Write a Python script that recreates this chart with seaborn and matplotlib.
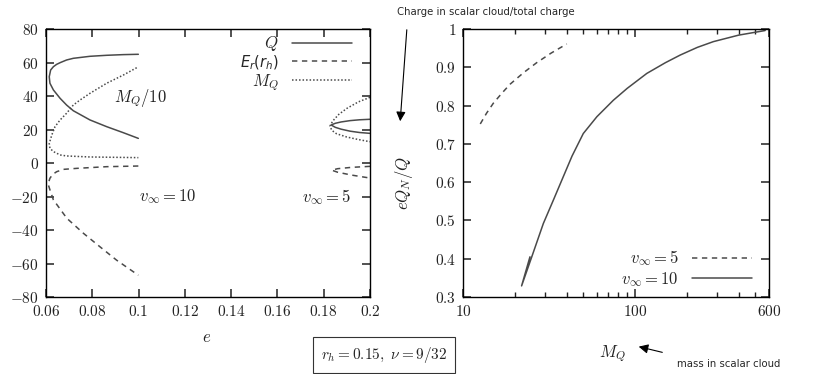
import numpy as np
import matplotlib
matplotlib.use('Agg')
import matplotlib.pyplot as plt
import pandas as pd
import seaborn as sns
from matplotlib.ticker import FuncFormatter, FixedLocator, NullFormatter

### data
# left panel, v_inf = 10 (each curve: upper branch -> turning point -> lower branch)
e_q10 = [0.0999, 0.0934, 0.0862, 0.0790, 0.0718, 0.0689, 0.0661, 0.0646, 0.0632, 0.0620, 0.0614,
         0.0617, 0.0632, 0.0661, 0.0689, 0.0718, 0.0790, 0.0862, 0.0934, 0.0999]
q10 = [64.9, 64.7, 64.3, 63.7, 62.5, 61.5, 59.9, 58.9, 57.5, 55.5, 51.5,
       47.6, 43.6, 38.6, 34.6, 31.2, 25.7, 21.7, 18.1, 14.7]
e_m10 = [0.0992, 0.0934, 0.0862, 0.0790, 0.0747, 0.0718, 0.0689, 0.0661, 0.0639, 0.0625, 0.0614,
         0.0617, 0.0632, 0.0661, 0.0689, 0.0790, 0.0999]
m10 = [56.9, 52.5, 47.6, 41.6, 37.6, 34.6, 29.7, 25.7, 21.7, 16.7, 11.7,
       8.8, 6.8, 4.8, 4.2, 3.6, 3.2]
e_er10 = [0.0999, 0.0862, 0.0733, 0.0675, 0.0646, 0.0629, 0.0617, 0.0609, 0.0617, 0.0632, 0.0690,
          0.0762, 0.0833, 0.0905, 0.0999]
er10 = [-1.8, -2.2, -3.2, -3.8, -5.2, -6.8, -9.1, -12.5, -16.0, -22.0, -33.0,
        -42.0, -50.0, -58.0, -67.0]

# left panel, v_inf = 5 (cut at e = 0.2)
e_q5 = [0.2, 0.1955, 0.1914, 0.1875, 0.185, 0.1832, 0.185, 0.1875, 0.1914, 0.1955, 0.2]
q5 = [26.1, 25.8, 25.3, 24.5, 23.7, 22.7, 21.3, 20.2, 19.0, 18.2, 17.7]
e_m5 = [0.2, 0.195, 0.190, 0.1865, 0.1845, 0.1832, 0.1827, 0.1835, 0.1855, 0.190, 0.195, 0.2]
m5 = [39.2, 36.5, 32.6, 29.0, 26.0, 23.5, 22.0, 19.5, 17.5, 15.5, 14.0, 12.7]
e_er5 = [0.2, 0.192, 0.186, 0.1835, 0.186, 0.192, 0.2]
er5 = [-2.0, -2.6, -3.4, -4.3, -5.5, -7.2, -9.0]

# right panel: eQ_N/Q vs M_Q
mq10 = [24.5, 21.9, 25.1, 29.3, 33.5, 37.5, 43.0, 50.0, 60.0, 74.8, 90.0, 117.0, 150.0, 183.0,
        230.0, 285.0, 400.0, 570.0]
frac10 = [0.405, 0.329, 0.405, 0.492, 0.553, 0.605, 0.668, 0.727, 0.771, 0.814, 0.845, 0.884, 0.912,
          0.932, 0.952, 0.967, 0.984, 0.996]
mq5 = [12.6, 13.7, 15.0, 16.8, 18.8, 22.5, 26.8, 32.5, 40.1]
frac5 = [0.752, 0.780, 0.806, 0.832, 0.856, 0.886, 0.912, 0.937, 0.961]

left_xticks = [0.06, 0.08, 0.1, 0.12, 0.14, 0.16, 0.18, 0.2]
left_yticks = [-80, -60, -40, -20, 0, 20, 40, 60, 80]
right_yticks = [0.3, 0.4, 0.5, 0.6, 0.7, 0.8, 0.9, 1]
right_xticks = [10, 100, 600]
right_xminor = [20, 30, 40, 50, 60, 70, 80, 90, 200, 300, 400, 500]

sns.set_style('ticks')
plt.rcParams['font.family'] = ['DejaVu Sans']
plt.rcParams['mathtext.fontset'] = 'cm'

col = '#4a4a4a'
solid = '-'
dashed = (0, (3.5, 3))
dotted = (0, (1, 1.3))

fig = plt.figure(figsize=(8.13, 3.74), dpi=100)
ax1 = fig.add_axes([46/813, 77/374, 324/813, 268/374])
ax2 = fig.add_axes([463/813, 77/374, 306/813, 268/374])

# left panel
sns.lineplot(x=e_q10, y=q10, sort=False, estimator=None, ax=ax1, color=col, lw=1.1, linestyle=solid, label='$Q$')
sns.lineplot(x=e_er10, y=er10, sort=False, estimator=None, ax=ax1, color=col, lw=1.1, linestyle=dashed, label='$E_r(r_h)$')
sns.lineplot(x=e_m10, y=m10, sort=False, estimator=None, ax=ax1, color=col, lw=1.1, linestyle=dotted, label='$M_Q$')
sns.lineplot(x=e_q5, y=q5, sort=False, estimator=None, ax=ax1, color=col, lw=1.1, linestyle=solid)
sns.lineplot(x=e_er5, y=er5, sort=False, estimator=None, ax=ax1, color=col, lw=1.1, linestyle=dashed)
sns.lineplot(x=e_m5, y=m5, sort=False, estimator=None, ax=ax1, color=col, lw=1.1, linestyle=dotted)

ax1.set_xlim(0.06, 0.2)
ax1.set_ylim(-80, 80)
ax1.xaxis.set_major_locator(FixedLocator(left_xticks))
ax1.yaxis.set_major_locator(FixedLocator(left_yticks))
fmt = FuncFormatter(lambda v, p: '$%g$' % v)
ax1.xaxis.set_major_formatter(fmt)
ax1.yaxis.set_major_formatter(fmt)
ax1.set_xlabel('')
ax1.set_ylabel('')

leg1 = ax1.legend(loc='upper right', bbox_to_anchor=(0.945, 0.98), frameon=False, markerfirst=False,
                  handlelength=3.6, fontsize=12, labelspacing=0.0, borderaxespad=0, borderpad=0)
leg1.get_texts()[1].set_math_fontfamily('dejavusans')
leg1.get_texts()[1].set_fontsize(10.5)

ax1.text(0.1006, 39, '$M_Q/10$', ha='center', va='center', fontsize=12, color='#222222')
ax1.text(0.1127, -20.3, r'$v_\infty = 10$', ha='center', va='center', fontsize=12, color='#222222')
ax1.text(0.1814, -20.3, r'$v_\infty = 5$', ha='center', va='center', fontsize=12, color='#222222')

# right panel
sns.lineplot(x=mq5, y=frac5, sort=False, estimator=None, ax=ax2, color=col, lw=1.1, linestyle=dashed, label=r'$v_\infty = 5$')
sns.lineplot(x=mq10, y=frac10, sort=False, estimator=None, ax=ax2, color=col, lw=1.1, linestyle=solid, label=r'$v_\infty = 10$')
ax2.set_xscale('log')
ax2.set_xlim(10, 600)
ax2.set_ylim(0.3, 1)
ax2.xaxis.set_major_locator(FixedLocator(right_xticks))
ax2.xaxis.set_minor_locator(FixedLocator(right_xminor))
ax2.xaxis.set_minor_formatter(NullFormatter())
ax2.xaxis.set_major_formatter(fmt)
ax2.yaxis.set_major_locator(FixedLocator(right_yticks))
ax2.yaxis.set_major_formatter(fmt)
ax2.set_xlabel('')
ax2.set_ylabel('')
ax2.legend(loc='lower right', bbox_to_anchor=(0.945, 0.03), frameon=False, markerfirst=False,
           handlelength=3.6, fontsize=12, labelspacing=0.1, borderaxespad=0, borderpad=0)

for ax in (ax1, ax2):
    ax.tick_params(which='both', direction='in', top=True, right=True, bottom=True, left=True,
                   color='#222222')
    ax.tick_params(which='major', length=5.5, width=1.1, labelsize=11, labelcolor='#222222', pad=5)
    ax.tick_params(which='minor', length=3.5, width=1.0)
    for s in ax.spines.values():
        s.set_linewidth(1.0)
        s.set_color('black')
        s.set_visible(True)

fig.text(207/813, 1 - 337/374, '$e$', ha='center', va='center', fontsize=12, color='#222222')
fig.text(612/813, 1 - 354/374, '$M_Q$', ha='center', va='center', fontsize=12, color='#222222')
fig.text(404/813, 1 - 183/374, '$eQ_N/Q$', ha='center', va='center', fontsize=12, rotation=90, color='#222222')

# annotations
fig.text(397/813, 1 - 12/374, 'Charge in scalar cloud/total charge', ha='left', va='center', fontsize=7.3)
ax2.annotate('', xy=(400/813, 1 - 124/374), xytext=(407/813, 1 - 27/374),
             xycoords='figure fraction', textcoords='figure fraction', annotation_clip=False,
             arrowprops=dict(arrowstyle='-|>', color='black', lw=0.8, mutation_scale=14))
fig.text(677/813, 1 - 364/374, 'mass in scalar cloud', ha='left', va='center', fontsize=7.3)
ax2.annotate('', xy=(636/813, 1 - 346/374), xytext=(665/813, 1 - 353/374),
             xycoords='figure fraction', textcoords='figure fraction', annotation_clip=False,
             arrowprops=dict(arrowstyle='-|>', color='black', lw=0.8, mutation_scale=14))
fig.text(384/813, 1 - 355/374, r'$r_h = 0.15,\ \nu = 9/32$', ha='center', va='center', fontsize=11,
         bbox=dict(boxstyle='square,pad=0.5', fc='white', ec='#333333', lw=0.8))

fig.savefig('out.png', dpi=100)
